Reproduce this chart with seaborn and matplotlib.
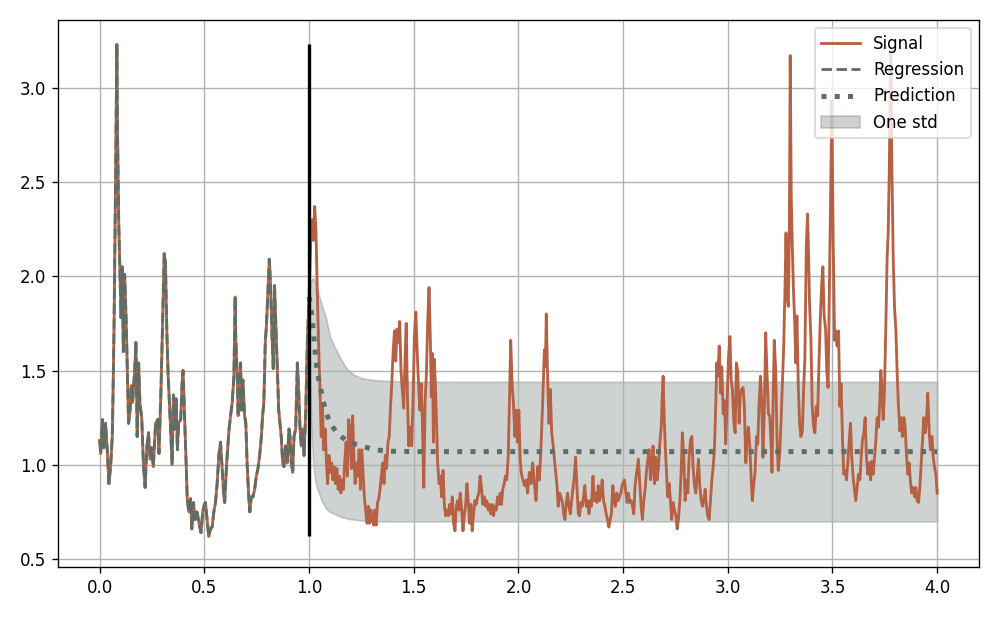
import matplotlib
matplotlib.use("Agg")
import matplotlib.pyplot as plt
import seaborn as sns
import numpy as np
from matplotlib.lines import Line2D
from matplotlib.patches import Patch

# observed part of the signal (0 .. 1), regression follows it
t_a = [0.000, 0.005, 0.013, 0.020, 0.028, 0.036, 0.044, 0.052, 0.060, 0.063,
       0.068, 0.075, 0.082, 0.085, 0.091, 0.096, 0.102, 0.107, 0.113, 0.119,
       0.126, 0.132, 0.138, 0.145, 0.151, 0.157, 0.167, 0.173, 0.179, 0.186,
       0.192, 0.201, 0.209, 0.217, 0.225, 0.233, 0.241, 0.248, 0.256, 0.267,
       0.277, 0.283, 0.292, 0.300, 0.308, 0.314, 0.321, 0.327, 0.333, 0.340,
       0.346, 0.352, 0.358, 0.365, 0.371, 0.377, 0.387, 0.393, 0.398, 0.406,
       0.414, 0.418, 0.426, 0.434, 0.440, 0.448, 0.456, 0.465, 0.476, 0.484,
       0.492]
v_a = [1.13, 1.06, 1.24, 1.09, 1.22, 1.08, 0.90, 0.99, 1.15, 1.33,
       1.69, 2.41, 3.23, 2.77, 2.28, 2.05, 1.78, 2.05, 1.60, 2.01,
       1.78, 1.50, 1.22, 1.29, 1.42, 1.33, 1.50, 1.65, 1.15, 1.54,
       1.33, 1.24, 1.00, 0.88, 1.09, 1.17, 1.03, 1.09, 0.99, 1.22,
       1.24, 1.06, 1.37, 1.73, 2.12, 2.07, 1.69, 1.47, 1.33, 1.15,
       1.00, 1.37, 1.19, 1.35, 1.08, 1.22, 1.24, 1.42, 1.50, 1.24,
       0.97, 0.82, 0.75, 0.82, 0.66, 0.80, 0.71, 0.75, 0.68, 0.64,
       0.75]

t_b = [0.500, 0.505, 0.513, 0.521, 0.529, 0.537, 0.545, 0.553, 0.561, 0.569,
       0.577, 0.585, 0.593, 0.597, 0.605, 0.612, 0.618, 0.625, 0.633, 0.641,
       0.647, 0.650, 0.657, 0.661, 0.668, 0.673, 0.677, 0.684, 0.692, 0.698,
       0.704, 0.711, 0.717, 0.724, 0.732, 0.740, 0.748, 0.756, 0.764, 0.772,
       0.778, 0.784, 0.791, 0.797, 0.804, 0.810, 0.816, 0.823, 0.829, 0.835,
       0.842, 0.848, 0.855, 0.861, 0.867, 0.874, 0.880, 0.888, 0.896, 0.904,
       0.909, 0.915, 0.922, 0.928, 0.936, 0.944, 0.950, 0.957, 0.963, 0.970,
       0.976, 0.984, 0.992, 1.000]
v_b = [0.79, 0.80, 0.71, 0.62, 0.66, 0.67, 0.75, 0.80, 0.90, 1.05,
       1.12, 0.98, 0.83, 0.80, 0.98, 1.10, 1.19, 1.26, 1.33, 1.47,
       1.89, 1.66, 1.47, 1.26, 1.43, 1.54, 1.29, 1.45, 1.26, 1.22,
       1.01, 0.85, 0.75, 0.83, 0.83, 0.87, 0.94, 0.98, 1.05, 1.15,
       1.26, 1.33, 1.65, 1.75, 1.93, 2.09, 1.96, 1.68, 1.51, 1.95,
       1.72, 1.51, 1.29, 1.22, 1.15, 1.01, 0.99, 1.10, 1.01, 1.19,
       1.15, 1.01, 0.96, 1.15, 1.19, 1.54, 1.40, 1.19, 1.10, 1.19,
       1.05, 1.28, 1.66, 1.89]

# signal after the cut (1 .. 4)
t_c = [1.008, 1.014, 1.020, 1.027, 1.033, 1.039, 1.045, 1.052, 1.058, 1.064,
       1.070, 1.077, 1.083, 1.089, 1.095, 1.102, 1.108, 1.114, 1.120, 1.127,
       1.133, 1.139, 1.145, 1.152, 1.158, 1.164, 1.170, 1.177, 1.183, 1.189,
       1.195, 1.202, 1.208, 1.214, 1.220, 1.227, 1.233, 1.239, 1.245, 1.252,
       1.258, 1.264, 1.270, 1.277, 1.283, 1.289, 1.295, 1.302, 1.308, 1.314,
       1.320, 1.327, 1.333, 1.339, 1.345, 1.352, 1.358, 1.364, 1.370, 1.377,
       1.383, 1.389, 1.395, 1.402, 1.408, 1.414, 1.420, 1.427, 1.433, 1.439,
       1.445, 1.452, 1.458, 1.464, 1.470, 1.476, 1.483, 1.490, 1.497]
v_c = [2.19, 2.30, 2.19, 2.37, 2.24, 1.93, 1.66, 1.40, 1.15, 1.31,
       1.08, 1.19, 1.01, 0.90, 1.05, 0.96, 1.01, 0.92, 0.99, 0.90,
       0.98, 0.87, 0.94, 0.85, 0.92, 0.87, 1.01, 1.12, 0.94, 1.24,
       1.19, 0.98, 1.26, 1.05, 0.90, 1.01, 0.94, 1.08, 0.87, 1.08,
       0.96, 0.83, 0.76, 0.69, 0.78, 0.69, 0.76, 0.71, 0.68, 0.76,
       0.68, 0.80, 0.82, 0.87, 0.94, 1.01, 0.90, 1.05, 0.98, 1.12,
       1.15, 1.31, 1.43, 1.61, 1.71, 1.55, 1.72, 1.65, 1.76, 1.50,
       1.40, 1.30, 1.55, 1.75, 1.35, 1.10, 1.20, 1.10, 1.36]

t_d = [1.503, 1.510, 1.516, 1.522, 1.529, 1.535, 1.541, 1.548, 1.554, 1.560,
       1.567, 1.573, 1.579, 1.584, 1.589, 1.594, 1.598, 1.603, 1.608, 1.614,
       1.621, 1.627, 1.633, 1.640, 1.646, 1.652, 1.659, 1.665, 1.671, 1.678,
       1.684, 1.690, 1.697, 1.703, 1.710, 1.716, 1.722, 1.729, 1.735, 1.741,
       1.748, 1.754, 1.760, 1.767, 1.773, 1.779, 1.786, 1.792, 1.798, 1.805,
       1.811, 1.817, 1.824, 1.830, 1.837, 1.843, 1.849, 1.856, 1.862, 1.868,
       1.875, 1.881, 1.887, 1.894, 1.900, 1.906, 1.913, 1.919, 1.925, 1.932,
       1.938, 1.944, 1.951, 1.957, 1.963, 1.970, 1.976, 1.983, 1.989, 1.995]
v_d = [1.68, 1.81, 1.61, 1.45, 1.29, 1.43, 1.24, 0.88, 1.33, 1.47,
       1.77, 1.94, 1.68, 1.36, 1.59, 1.12, 1.56, 1.43, 1.26, 1.01,
       0.90, 0.94, 0.83, 0.97, 0.79, 0.73, 0.76, 0.73, 0.79, 0.74,
       0.83, 0.69, 0.65, 0.78, 0.81, 0.76, 0.85, 0.76, 0.65, 0.73,
       0.79, 0.90, 0.81, 0.69, 0.79, 0.65, 0.74, 0.81, 0.79, 0.83,
       0.85, 0.94, 0.87, 0.79, 0.83, 0.78, 0.81, 0.76, 0.79, 0.74,
       0.79, 0.73, 0.78, 0.76, 0.83, 0.79, 0.85, 0.79, 0.87, 0.90,
       0.94, 0.92, 1.04, 1.33, 1.66, 1.42, 1.33, 1.15, 1.29, 1.12]

t_e = [2.002, 2.008, 2.013, 2.021, 2.029, 2.037, 2.044, 2.052, 2.060, 2.068,
       2.076, 2.084, 2.092, 2.100, 2.108, 2.116, 2.124, 2.129, 2.133, 2.140,
       2.146, 2.152, 2.159, 2.165, 2.171, 2.178, 2.184, 2.190, 2.197, 2.203,
       2.210, 2.216, 2.222, 2.229, 2.235, 2.241, 2.248, 2.254, 2.260, 2.267,
       2.273, 2.279, 2.286, 2.292, 2.298, 2.305, 2.311, 2.317, 2.324, 2.330,
       2.337, 2.343, 2.349, 2.356, 2.362, 2.368, 2.375, 2.381, 2.387, 2.394,
       2.400, 2.406, 2.413, 2.419, 2.425, 2.432, 2.438, 2.444, 2.451, 2.457,
       2.463, 2.470, 2.476, 2.483, 2.489, 2.495]
v_e = [1.29, 1.04, 0.96, 0.92, 0.89, 0.92, 0.85, 0.96, 0.90, 1.01,
       0.90, 0.81, 0.99, 0.92, 1.10, 1.34, 1.61, 1.52, 1.80, 1.43,
       1.22, 1.40, 1.17, 1.11, 1.04, 0.96, 0.89, 0.78, 0.85, 0.83,
       0.80, 0.74, 0.71, 0.81, 0.85, 0.78, 0.74, 0.81, 0.87, 0.94,
       1.04, 0.89, 0.74, 0.73, 0.80, 0.78, 0.83, 0.89, 0.78, 0.81,
       0.74, 0.81, 0.78, 0.94, 0.81, 0.85, 0.80, 0.89, 0.81, 0.85,
       0.92, 0.81, 0.78, 0.74, 0.71, 0.67, 0.71, 0.74, 0.89, 0.81,
       0.78, 0.85, 0.81, 0.83, 0.85, 0.89]

t_f = [2.506, 2.513, 2.519, 2.525, 2.532, 2.538, 2.545, 2.551, 2.557, 2.565,
       2.573, 2.580, 2.586, 2.592, 2.599, 2.605, 2.611, 2.618, 2.624, 2.631,
       2.637, 2.643, 2.650, 2.656, 2.662, 2.669, 2.675, 2.682, 2.686, 2.691,
       2.696, 2.701, 2.707, 2.713, 2.720, 2.726, 2.732, 2.739, 2.745, 2.752,
       2.758, 2.764, 2.771, 2.777, 2.783, 2.790, 2.796, 2.803, 2.809, 2.815,
       2.822, 2.828, 2.834, 2.841, 2.847, 2.854, 2.860, 2.866, 2.873, 2.879,
       2.885, 2.892, 2.898, 2.904, 2.911, 2.917, 2.924, 2.930, 2.936, 2.943,
       2.947, 2.952, 2.959, 2.965, 2.971, 2.978, 2.984, 2.990, 2.997]
v_f = [0.92, 0.85, 0.80, 0.85, 0.80, 0.81, 0.78, 0.74, 0.89, 0.96,
       1.03, 0.89, 0.78, 0.71, 0.81, 0.87, 0.96, 1.03, 1.08, 0.92,
       0.99, 1.10, 0.90, 1.04, 0.92, 0.99, 1.11, 1.20, 1.34, 1.47,
       1.26, 1.10, 0.96, 0.83, 0.90, 0.81, 0.71, 0.80, 0.76, 0.73,
       0.66, 0.71, 0.81, 0.96, 1.17, 1.03, 0.81, 0.92, 0.85, 1.04,
       1.13, 1.15, 0.99, 0.89, 0.85, 0.94, 1.03, 0.89, 0.81, 0.78,
       0.81, 0.87, 0.78, 0.73, 0.71, 0.81, 0.92, 0.99, 1.08, 1.34,
       1.54, 1.47, 1.63, 1.38, 1.52, 1.27, 1.34, 1.11, 1.34]

t_g = [3.003, 3.010, 3.016, 3.022, 3.029, 3.035, 3.041, 3.048, 3.054, 3.060,
       3.067, 3.073, 3.079, 3.086, 3.092, 3.098, 3.105, 3.111, 3.117, 3.124,
       3.130, 3.137, 3.143, 3.149, 3.156, 3.162, 3.168, 3.175, 3.181, 3.187,
       3.194, 3.200, 3.206, 3.211, 3.216, 3.222, 3.229, 3.235, 3.241, 3.248,
       3.254, 3.260, 3.267, 3.273, 3.278, 3.283, 3.289, 3.294, 3.298, 3.303,
       3.308, 3.313, 3.319, 3.325, 3.330, 3.337, 3.343, 3.349, 3.356, 3.362,
       3.368, 3.375, 3.381, 3.386, 3.390, 3.397, 3.403, 3.410, 3.416, 3.422,
       3.429, 3.435, 3.441, 3.448, 3.454, 3.460, 3.467, 3.473, 3.479, 3.486,
       3.492, 3.497]
v_g = [1.56, 1.68, 1.45, 1.40, 1.22, 1.17, 1.54, 1.49, 1.22, 1.38,
       1.40, 1.41, 1.31, 1.01, 1.13, 1.20, 1.10, 0.94, 0.81, 0.90,
       0.96, 1.15, 1.11, 1.31, 1.47, 1.33, 1.04, 1.31, 1.70, 1.49,
       1.27, 1.26, 1.13, 0.96, 1.31, 1.66, 1.49, 1.13, 0.97, 1.06,
       1.22, 1.41, 1.63, 1.93, 2.23, 1.89, 1.84, 2.23, 3.17, 2.42,
       2.16, 1.95, 1.77, 1.54, 1.79, 1.40, 1.22, 1.15, 1.18, 1.40,
       1.56, 2.16, 2.33, 2.10, 1.87, 1.66, 1.31, 1.20, 1.17, 1.31,
       1.26, 1.52, 1.75, 1.95, 2.05, 1.79, 1.72, 1.49, 1.41, 2.02,
       2.51, 2.93]

t_h = [3.503, 3.510, 3.516, 3.522, 3.529, 3.535, 3.541, 3.548, 3.554, 3.561,
       3.567, 3.573, 3.580, 3.586, 3.592, 3.599, 3.605, 3.611, 3.618, 3.624,
       3.631, 3.637, 3.643, 3.650, 3.656, 3.662, 3.669, 3.675, 3.682, 3.688,
       3.694, 3.701, 3.707, 3.713, 3.720, 3.726, 3.731, 3.736, 3.742, 3.748,
       3.755, 3.761, 3.766, 3.771, 3.775, 3.779, 3.783, 3.790, 3.796, 3.803,
       3.809, 3.815, 3.822, 3.828, 3.834, 3.841, 3.847, 3.854, 3.860, 3.866,
       3.873, 3.879, 3.885, 3.892, 3.898, 3.904, 3.911, 3.917, 3.924, 3.930,
       3.936, 3.943, 3.949, 3.955, 3.962, 3.968, 3.975, 3.981, 3.987, 3.994,
       4.000]
v_h = [2.21, 1.66, 1.71, 1.63, 1.71, 1.31, 1.43, 1.13, 0.95, 0.97,
       0.92, 1.01, 1.13, 1.22, 1.04, 0.93, 0.87, 0.81, 0.88, 0.95,
       0.92, 1.04, 1.13, 1.17, 1.25, 1.04, 0.95, 1.01, 0.92, 1.02,
       0.95, 1.04, 1.13, 1.25, 1.20, 1.34, 1.50, 1.40, 1.24, 1.38,
       1.75, 2.10, 2.23, 2.54, 2.93, 3.18, 2.63, 2.10, 1.84, 1.71,
       1.48, 1.31, 1.18, 1.25, 1.15, 1.25, 1.20, 1.04, 0.95, 1.01,
       0.90, 0.85, 0.88, 0.83, 0.88, 0.81, 0.80, 0.88, 1.01, 1.13,
       1.25, 1.17, 1.24, 1.38, 1.17, 1.08, 1.15, 1.04, 0.99, 0.95,
       0.85]

# prediction mean and one-std band
pred_t = [1.000, 1.008, 1.016, 1.023, 1.031, 1.039, 1.050, 1.063, 1.078,
          1.100, 1.140, 1.190, 1.250, 1.310, 1.380, 1.500, 4.000]
pred_mean = [1.89, 1.84, 1.76, 1.68, 1.57, 1.50, 1.43, 1.36, 1.29,
             1.22, 1.16, 1.12, 1.10, 1.08, 1.072, 1.07, 1.07]
band_t = [1.000, 1.005, 1.010, 1.020, 1.030, 1.040, 1.060, 1.080, 1.100,
          1.120, 1.150, 1.180, 1.210, 1.250, 1.300, 1.370, 1.500, 4.000]
band_upper = [1.89, 1.95, 1.98, 1.99, 1.97, 1.93, 1.85, 1.78, 1.68,
              1.63, 1.565, 1.51, 1.48, 1.46, 1.45, 1.445, 1.44, 1.44]
band_lower = [1.89, 1.45, 1.20, 1.00, 0.91, 0.87, 0.81, 0.77, 0.75,
              0.74, 0.725, 0.715, 0.71, 0.705, 0.70, 0.70, 0.70, 0.70]

signal_color = "#b66144"
model_color = "#5e6e67"

t_obs = t_a + t_b
v_obs = v_a + v_b
t_all = t_obs + t_c + t_d + t_e + t_f + t_g + t_h
v_all = v_obs + v_c + v_d + v_e + v_f + v_g + v_h

fig, ax = plt.subplots(figsize=(997 / 120, 617 / 120), dpi=120)

ax.fill_between(band_t, band_lower, band_upper, color=model_color, alpha=0.3)

sns.lineplot(x=t_all, y=v_all, ax=ax, color=signal_color, linewidth=1.7,
             estimator=None, sort=False)
sns.lineplot(x=t_obs, y=v_obs, ax=ax, color=model_color, linewidth=1.7,
             linestyle="--", estimator=None, sort=False)
sns.lineplot(x=pred_t, y=pred_mean, ax=ax, color=model_color, linewidth=3,
             linestyle=":", estimator=None, sort=False)

ax.vlines(1.0, min(v_obs), max(v_obs), color="black", linewidth=2)

ax.grid(True)
ax.set_xticks(np.arange(0, 4.01, 0.5))
ax.set_ylim(0.458, 3.36)

handles = [
    Line2D([], [], color=signal_color, linewidth=1.7),
    Line2D([], [], color=model_color, linewidth=1.7, linestyle="--"),
    Line2D([], [], color=model_color, linewidth=3, linestyle=":"),
    Patch(facecolor=model_color, edgecolor=model_color, alpha=0.3),
]
ax.legend(handles, ["Signal", "Regression", "Prediction", "One std"],
          loc="upper right", handlelength=2.3)

fig.subplots_adjust(left=0.058, right=0.982, bottom=0.081, top=0.968)
fig.savefig("out.png", dpi=120)
